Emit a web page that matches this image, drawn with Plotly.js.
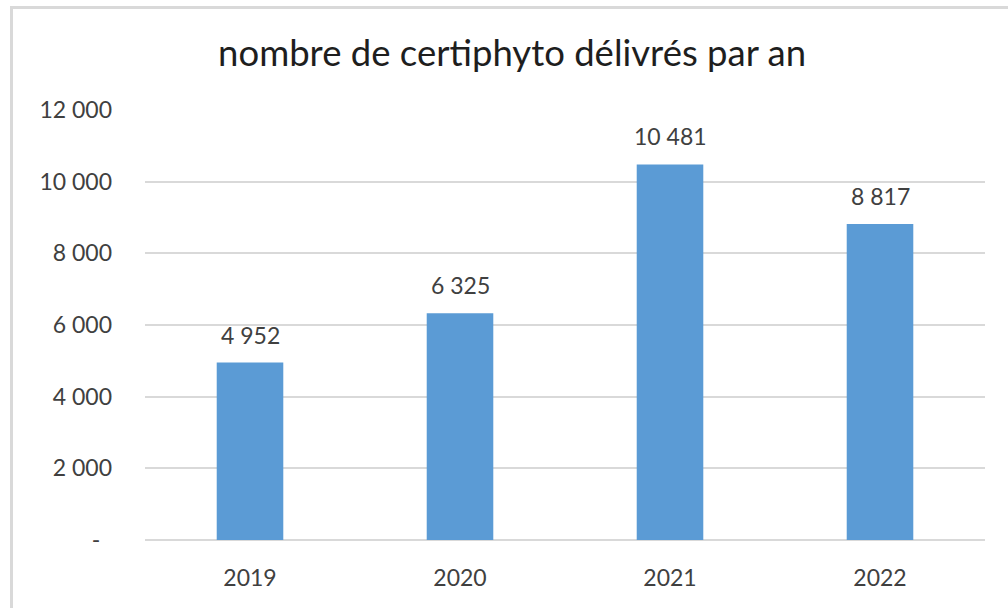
<!DOCTYPE html>
<html>
<head>
<meta charset="utf-8">
<script src="https://cdn.plot.ly/plotly-3.0.1.min.js"></script>
<style>
html,body{margin:0;padding:0;background:#fff;overflow:hidden;}
#wrap{position:relative;width:1008px;height:608px;}
#chart{width:1008px;height:608px;}
#frame{position:absolute;left:10px;top:6px;width:1020px;height:640px;border:3px solid #d9d9d9;pointer-events:none;box-sizing:border-box;}
</style>
</head>
<body>
<div id="wrap"><div id="chart"></div><div id="frame"></div></div>
<script>
const years = ['2019', '2020', '2021', '2022'];
const certificats = [4952, 6325, 10481, 8817];
const yTickVals = [0, 2000, 4000, 6000, 8000, 10000, 12000];
const yTickText = ['-\u00a0\u00a0', '2 000', '4 000', '6 000', '8 000', '10 000', '12 000'];
const titleText = 'nombre de certiphyto délivrés par an';

function fmt(v){ return String(v).replace(/\B(?=(\d{3})+(?!\d))/g, ' '); }

const FONT = 'Lato, "Open Sans", sans-serif';

const trace = {
  type: 'bar',
  x: years,
  y: certificats,
  marker: {color: '#5b9bd5'},
  width: 0.317,
  hoverinfo: 'none'
};

const annotations = years.map((yr, i) => ({
  x: i, y: certificats[i], xref: 'x', yref: 'y',
  text: fmt(certificats[i]),
  showarrow: false, yshift: 28,
  font: {family: FONT, size: 23, color: '#404040'}
}));

const layout = {
  width: 1008, height: 608,
  margin: {l: 145, r: 23, t: 110, b: 68},
  paper_bgcolor: '#ffffff', plot_bgcolor: '#ffffff',
  showlegend: false,
  title: {text: titleText, x: 0.508, xanchor: 'center', y: 0.912, yanchor: 'middle',
          font: {family: FONT, size: 36.5, color: '#1e1e1e'}},
  xaxis: {type: 'category', range: [-0.5, 3.5], autorange: false,
          showgrid: false, zeroline: false, showline: false, ticks: '',
          ticklabelstandoff: 22,
          tickfont: {family: FONT, size: 23, color: '#404040'}},
  yaxis: {range: [0, 12000], autorange: false, tickvals: yTickVals, ticktext: yTickText, tickmode: 'array',
          showgrid: true, gridcolor: '#d9d9d9', gridwidth: 2, zeroline: true, zerolinecolor: '#d9d9d9', zerolinewidth: 2,
          showline: false, ticks: '', ticklabelstandoff: 32,
          tickfont: {family: FONT, size: 23, color: '#404040'}},
  annotations: annotations
};

Plotly.newPlot('chart', [trace], layout, {displayModeBar: false, staticPlot: true});
</script>
</body>
</html>
